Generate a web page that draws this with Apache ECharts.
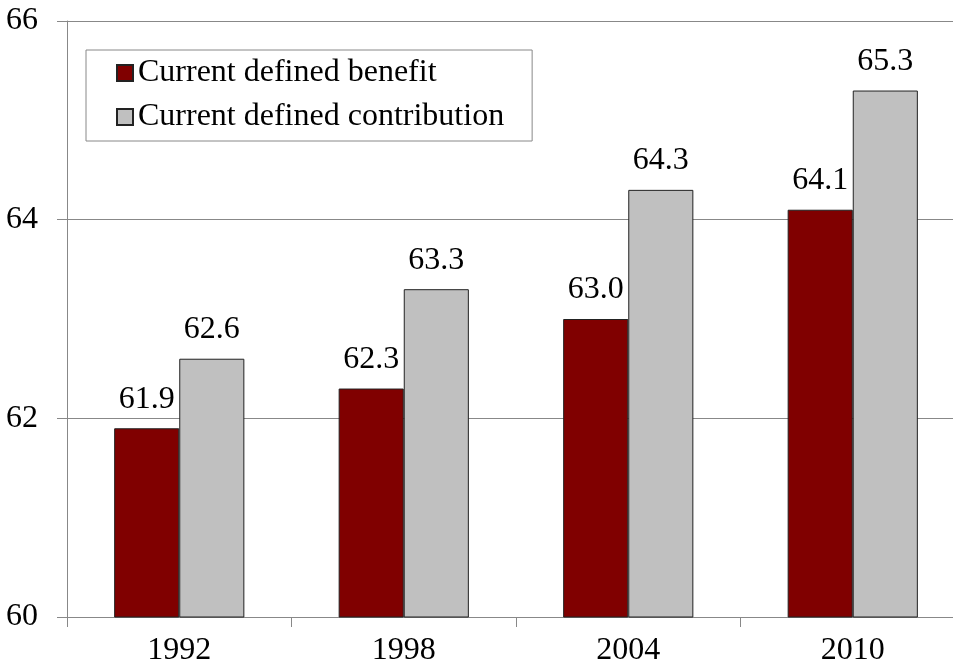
<!DOCTYPE html>
<html><head><meta charset="utf-8">
<script src="https://cdn.jsdelivr.net/npm/echarts@6/dist/echarts.min.js"></script>
<style>html,body{margin:0;padding:0;background:#fff;overflow:hidden;width:953px;height:670px}#c{width:966px;height:670px}</style>
</head><body><div id="c"></div>
<script>
const categories = ['1992','1998','2004','2010'];
const definedBenefit = [61.9, 62.3, 63.0, 64.1];
const definedContribution = [62.6, 63.3, 64.3, 65.3];
const seriesNames = ['Current defined benefit','Current defined contribution'];
const yTicks = {min:60, max:66, interval:2};

const font = '"Liberation Serif","Times New Roman",serif';
const chart = echarts.init(document.getElementById('c'));
const lbl = {show:true, position:'top', distance:13, fontFamily:font, fontSize:32, color:'#000',
  formatter: p => p.value.toFixed(1)};
chart.setOption({
  animation:false,
  textStyle:{fontFamily:font},
  grid:{left:67, right:1, top:21, bottom:53, containLabel:false},
  legend:{
    left:86, top:50, orient:'vertical', padding:[7,28,8,30],
    borderColor:'#888', borderWidth:1, itemGap:12,
    itemWidth:16, itemHeight:16, icon:'rect',
    textStyle:{fontFamily:font, fontSize:32, color:'#000'},
    data:seriesNames
  },
  xAxis:{type:'category', data:categories,
    axisLine:{lineStyle:{color:'#888'}},
    axisTick:{show:true, length:10, lineStyle:{color:'#888'}},
    axisLabel:{fontFamily:font, fontSize:32, color:'#000', margin:18}},
  yAxis:{type:'value', min:yTicks.min, max:yTicks.max, interval:yTicks.interval,
    axisLine:{show:true, lineStyle:{color:'#888'}},
    axisTick:{show:true, inside:false, length:10, lineStyle:{color:'#888'}},
    splitLine:{lineStyle:{color:'#888'}},
    axisLabel:{fontFamily:font, fontSize:32, color:'#000', margin:29}},
  series:[
    {name:seriesNames[0], type:'bar', data:definedBenefit, barGap:'0%', barCategoryGap:'42%',
      itemStyle:{color:'#800000', borderColor:'#222', borderWidth:1}, label:lbl},
    {name:seriesNames[1], type:'bar', data:definedContribution,
      itemStyle:{color:'#C0C0C0', borderColor:'#222', borderWidth:1}, label:lbl}
  ]
});
</script></body></html>
